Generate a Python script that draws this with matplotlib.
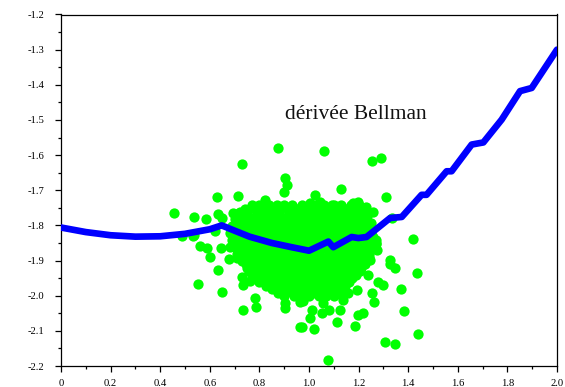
import matplotlib
matplotlib.use("Agg")
import matplotlib.pyplot as plt
from matplotlib.ticker import FixedLocator, MultipleLocator

plt.rcParams['font.family'] = ['Liberation Serif', 'DejaVu Serif']
plt.rcParams['axes.unicode_minus'] = False

# Blue curve ("dérivée Bellman")
line_x = [0.0, 0.1, 0.2, 0.3, 0.4, 0.5, 0.6, 0.648, 0.70, 0.76, 0.85, 0.93, 1.00,
          1.078, 1.098, 1.172, 1.199, 1.232, 1.327, 1.374, 1.454, 1.474, 1.555,
          1.575, 1.656, 1.703, 1.777, 1.851, 1.898, 2.0]
line_y = [-1.806, -1.819, -1.828, -1.832, -1.831, -1.824, -1.811, -1.800, -1.815,
          -1.832, -1.850, -1.862, -1.872, -1.846, -1.862, -1.833, -1.836, -1.833,
          -1.779, -1.776, -1.713, -1.713, -1.646, -1.646, -1.570, -1.564, -1.499,
          -1.418, -1.409, -1.300]

# Dense core of the green cloud, read row by row (y level -> x positions)
core_rows_y = [-1.742, -1.752, -1.762, -1.772, -1.782, -1.792, -1.802, -1.812,
               -1.822, -1.832, -1.842, -1.852, -1.861, -1.871, -1.881, -1.891,
               -1.901, -1.911, -1.921, -1.931, -1.941, -1.951, -1.961, -1.971,
               -1.981, -1.991, -2.001]
core_rows_x = [
    [0.77, 0.80, 0.84, 0.87, 0.90, 0.93, 0.97, 1.00, 1.03, 1.06, 1.10, 1.13, 1.17, 1.20],
    [0.74, 0.785, 0.82, 0.855, 0.885, 0.915, 0.95, 0.985, 1.015, 1.045, 1.08, 1.115, 1.15, 1.185, 1.21],
    [0.72, 0.75, 0.79, 0.82, 0.85, 0.88, 0.92, 0.95, 0.98, 1.01, 1.05, 1.08, 1.11, 1.15, 1.18, 1.22],
    [0.715, 0.75, 0.785, 0.815, 0.85, 0.885, 0.915, 0.945, 0.98, 1.015, 1.045, 1.075, 1.115, 1.145, 1.175, 1.21, 1.235],
    [0.70, 0.73, 0.77, 0.80, 0.83, 0.87, 0.90, 0.93, 0.96, 1.00, 1.03, 1.06, 1.10, 1.13, 1.16, 1.20, 1.23],
    [0.705, 0.735, 0.765, 0.80, 0.835, 0.865, 0.895, 0.93, 0.965, 0.995, 1.025, 1.06, 1.095, 1.125, 1.155, 1.19, 1.225, 1.25],
    [0.69, 0.72, 0.75, 0.78, 0.82, 0.85, 0.88, 0.91, 0.95, 0.98, 1.01, 1.04, 1.08, 1.11, 1.14, 1.18, 1.21, 1.24],
    [0.695, 0.725, 0.76, 0.79, 0.825, 0.855, 0.89, 0.92, 0.955, 0.985, 1.02, 1.05, 1.085, 1.115, 1.15, 1.18, 1.215, 1.245],
    [0.68, 0.71, 0.74, 0.77, 0.80, 0.83, 0.87, 0.90, 0.93, 0.96, 1.00, 1.03, 1.06, 1.09, 1.13, 1.16, 1.19, 1.22, 1.25],
    [0.70, 0.735, 0.765, 0.80, 0.835, 0.865, 0.895, 0.93, 0.965, 0.995, 1.025, 1.06, 1.095, 1.125, 1.16, 1.195, 1.225, 1.26],
    [0.69, 0.72, 0.75, 0.78, 0.82, 0.85, 0.88, 0.91, 0.95, 0.98, 1.01, 1.04, 1.08, 1.11, 1.14, 1.18, 1.21, 1.24, 1.27],
    [0.71, 0.74, 0.775, 0.81, 0.84, 0.87, 0.905, 0.94, 0.97, 1.02, 1.05, 1.075, 1.11, 1.145, 1.175, 1.205, 1.24, 1.27],
    [0.70, 0.73, 0.77, 0.80, 0.83, 0.86, 0.90, 0.93, 0.96, 1.00, 1.03, 1.06, 1.09, 1.13, 1.16, 1.19, 1.22, 1.26],
    [0.72, 0.755, 0.79, 0.82, 0.855, 0.885, 0.915, 0.95, 0.985, 1.015, 1.045, 1.075, 1.115, 1.145, 1.18, 1.205, 1.245],
    [0.71, 0.75, 0.78, 0.81, 0.85, 0.88, 0.91, 0.94, 0.98, 1.01, 1.04, 1.08, 1.11, 1.14, 1.17, 1.21, 1.24],
    [0.725, 0.765, 0.795, 0.83, 0.865, 0.895, 0.925, 0.955, 0.99, 1.02, 1.05, 1.09, 1.125, 1.155, 1.185, 1.215, 1.24],
    [0.73, 0.76, 0.80, 0.83, 0.86, 0.90, 0.93, 0.96, 0.99, 1.03, 1.06, 1.09, 1.13, 1.16, 1.19, 1.23],
    [0.745, 0.775, 0.805, 0.84, 0.87, 0.905, 0.935, 0.97, 1.00, 1.035, 1.07, 1.10, 1.13, 1.165, 1.195, 1.225],
    [0.75, 0.78, 0.81, 0.85, 0.88, 0.91, 0.94, 0.98, 1.01, 1.04, 1.08, 1.11, 1.14, 1.18, 1.21],
    [0.76, 0.79, 0.82, 0.855, 0.89, 0.92, 0.955, 0.99, 1.02, 1.05, 1.085, 1.12, 1.15, 1.18, 1.205],
    [0.77, 0.80, 0.83, 0.86, 0.90, 0.93, 0.96, 1.00, 1.03, 1.06, 1.09, 1.13, 1.16, 1.19],
    [0.785, 0.815, 0.85, 0.88, 0.915, 0.945, 0.98, 1.015, 1.045, 1.075, 1.11, 1.145, 1.175],
    [0.80, 0.83, 0.87, 0.90, 0.93, 0.97, 1.00, 1.03, 1.06, 1.10, 1.13, 1.16],
    [0.825, 0.855, 0.885, 0.915, 0.95, 0.985, 1.015, 1.045, 1.08, 1.115, 1.145],
    [0.85, 0.88, 0.91, 0.95, 0.98, 1.01, 1.05, 1.08, 1.11, 1.14],
    [0.875, 0.905, 0.935, 0.965, 0.995, 1.025, 1.06, 1.09, 1.12],
    [0.90, 0.94, 0.97, 1.00, 1.04, 1.07, 1.10],
]

# Individually visible green points around the core
outer_x = [0.876, 1.060, 0.731, 1.253, 1.289, 0.903, 0.913, 0.900, 1.128, 1.310,
           0.628, 0.712, 0.823, 1.024, 1.044, 1.091, 1.004, 1.199, 1.179, 1.230,
           1.259, 1.179, 1.333, 1.226, 1.172,
           0.456, 0.538, 0.585, 0.634, 0.648, 0.695, 0.719, 0.769, 0.487, 0.534,
           0.538, 0.621, 0.560, 0.589, 0.646, 0.681, 0.601, 0.676, 0.710, 0.634,
           0.554, 0.648, 0.731, 0.733, 0.762, 0.782, 0.786, 0.735, 0.823, 0.856,
           0.903, 0.937, 0.903, 0.903, 0.964, 0.964,
           0.971, 1.021, 1.004, 1.011, 1.051, 1.082, 1.112, 1.125, 1.185, 1.199,
           1.219, 1.264, 1.306, 1.347, 1.441, 1.384, 1.434, 1.370, 1.327, 1.347,
           1.275, 1.421, 1.078, 0.975, 0.934, 1.327, 1.138, 1.057, 1.004, 1.253,
           1.300, 1.279, 1.239, 1.192, 1.098, 1.159, 1.246, 1.25, 1.27]
outer_y = [-1.581, -1.587, -1.625, -1.616, -1.609, -1.666, -1.685, -1.706, -1.697, -1.720,
           -1.720, -1.716, -1.728, -1.714, -1.733, -1.742, -1.737, -1.733, -1.737, -1.747,
           -1.761, -1.761, -1.778, -1.804, -1.770,
           -1.764, -1.776, -1.781, -1.768, -1.778, -1.764, -1.764, -1.751, -1.829, -1.830,
           -1.827, -1.816, -1.860, -1.863, -1.865, -1.861, -1.891, -1.895, -1.894, -1.927,
           -1.968, -1.989, -1.946, -1.970, -1.958, -2.007, -2.031, -2.041, -1.955, -1.965,
           -1.979, -1.989, -2.022, -2.036, -2.017, -2.088,
           -2.090, -2.095, -2.064, -2.041, -2.048, -2.041, -2.074, -2.041, -2.086, -2.055,
           -2.048, -2.017, -2.131, -2.137, -2.110, -2.044, -1.935, -1.982, -1.910, -1.922,
           -1.870, -1.839, -2.183, -2.014, -1.989, -1.898, -2.012, -2.022, -1.993, -1.993,
           -1.970, -1.960, -1.941, -1.984, -1.974, -1.993, -1.898, -1.820, -1.850]

x_ticks = [0, 0.2, 0.4, 0.6, 0.8, 1.0, 1.2, 1.4, 1.6, 1.8, 2.0]
x_tick_labels = ['0', '0.2', '0.4', '0.6', '0.8', '1.0', '1.2', '1.4', '1.6', '1.8', '2.0']
y_ticks = [-2.2, -2.1, -2.0, -1.9, -1.8, -1.7, -1.6, -1.5, -1.4, -1.3, -1.2]
y_tick_labels = ['-2.2', '-2.1', '-2.0', '-1.9', '-1.8', '-1.7', '-1.6', '-1.5', '-1.4', '-1.3', '-1.2']

title_text = 'dérivée Bellman'

fig = plt.figure(figsize=(5.65, 3.87), dpi=100)
ax = fig.add_axes([61 / 565, 21 / 387, 496 / 565, 351.5 / 387])

scat_x = [x for row in core_rows_x for x in row] + outer_x
scat_y = [y for y, row in zip(core_rows_y, core_rows_x) for _ in row] + outer_y
ax.plot(scat_x, scat_y, linestyle='none', marker='o', markersize=7.4,
        markerfacecolor='#00ff00', markeredgewidth=0, zorder=2)
ax.plot(line_x, line_y, color='#0000ff', linewidth=4.8, solid_joinstyle='round',
        solid_capstyle='round', zorder=3)

ax.text(0.903, -1.497, title_text, fontsize=15.5, ha='left', va='baseline', color='#111111')

ax.set_xlim(0, 2.0)
ax.set_ylim(-2.2, -1.2)
ax.xaxis.set_major_locator(FixedLocator(x_ticks))
ax.set_xticklabels(x_tick_labels)
ax.yaxis.set_major_locator(FixedLocator(y_ticks))
ax.set_yticklabels(y_tick_labels)
ax.xaxis.set_minor_locator(MultipleLocator(0.1))
ax.yaxis.set_minor_locator(MultipleLocator(0.05))
ax.tick_params(which='both', direction='out', top=False, right=False, width=0.9, colors='black')
ax.tick_params(which='major', length=4, labelsize=7.7)
ax.tick_params(axis='x', which='major', pad=5)
ax.tick_params(axis='y', which='major', pad=8)
ax.tick_params(which='minor', length=2.5)
for s in ax.spines.values():
    s.set_linewidth(0.9)
    s.set_color('black')

fig.savefig('out.png', dpi=100)
